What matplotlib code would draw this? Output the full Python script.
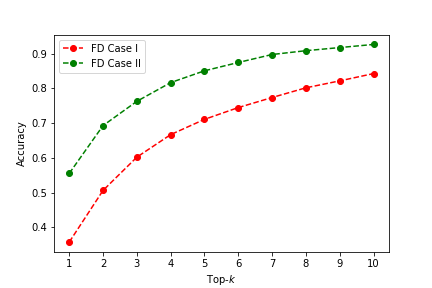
import matplotlib
matplotlib.use('Agg')
import matplotlib.pyplot as plt

top_k = [1, 2, 3, 4, 5, 6, 7, 8, 9, 10]
case_1 = [0.357, 0.506, 0.602, 0.667, 0.711, 0.745, 0.774, 0.802, 0.822, 0.843]
case_2 = [0.555, 0.693, 0.763, 0.817, 0.851, 0.875, 0.898, 0.909, 0.918, 0.927]

fig = plt.figure(figsize=(6, 4), dpi=72)
plt.subplots_adjust(left=0.125, right=0.9, top=0.88, bottom=0.125)
plt.plot(top_k, case_1, 'r--o', label='FD Case I')
plt.plot(top_k, case_2, 'g--o', label='FD Case II')
plt.xticks(top_k)
plt.xlabel('Top-$k$')
plt.ylabel('Accuracy')
plt.legend(loc='upper left')
plt.savefig('out.png', dpi=72)
